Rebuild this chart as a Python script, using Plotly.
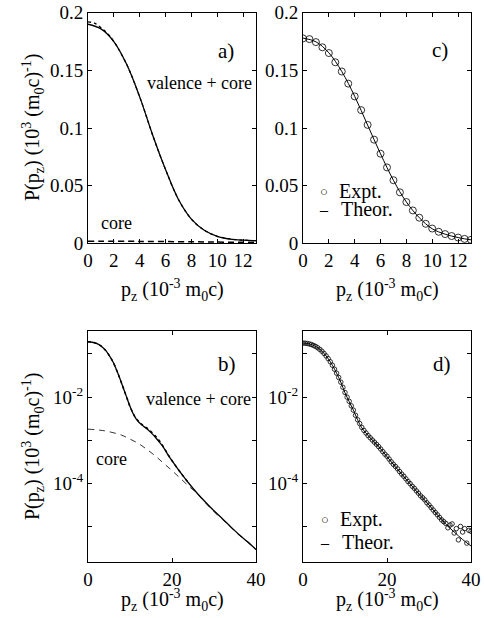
import plotly.graph_objects as go

# valence + core (panels a, b)
x_vc = [0, 1, 2, 3, 4, 5, 6, 7, 8, 9, 10, 11, 12, 13, 14, 15, 16, 17, 18, 19, 20,
        22, 24, 26, 28, 30, 32, 34, 36, 38, 40]
p_vc = [0.190, 0.186, 0.175, 0.155, 0.127, 0.094, 0.064, 0.038, 0.021, 0.0113, 0.0061,
        0.0037, 0.0027, 0.0022, 1.86e-3, 1.51e-3, 1.2e-3, 9.1e-4, 6.8e-4, 4.7e-4, 3.4e-4,
        1.82e-4, 1.02e-4, 6.0e-5, 3.7e-5, 2.35e-5, 1.55e-5, 1.0e-5, 6.6e-6, 4.5e-6, 3.0e-6]

# second (dotted) valence + core curve
x_dot = [0, 0.5, 1, 1.5, 2, 3, 4, 5, 6, 7, 8, 9, 10, 11, 12, 13, 14, 15, 16, 17, 18, 19, 20, 22, 24]
p_dot = [0.192, 0.191, 0.187, 0.182, 0.175, 0.155, 0.127, 0.094, 0.064, 0.038, 0.021, 0.0113,
         0.0061, 0.0038, 0.0028, 0.00225, 1.95e-3, 1.6e-3, 1.28e-3, 9.8e-4, 7.0e-4, 4.8e-4,
         3.4e-4, 1.82e-4, 1.02e-4]

# core contribution
x_core = [0, 4, 8, 10, 12, 14, 16, 18, 20, 22, 24, 26, 28, 30, 32, 34, 36, 38, 40]
p_core = [1.82e-3, 1.66e-3, 1.32e-3, 1.07e-3, 8.5e-4, 6.2e-4, 4.4e-4, 2.95e-4, 2.0e-4,
          1.32e-4, 8.7e-5, 5.9e-5, 3.55e-5, 2.24e-5, 1.48e-5, 9.7e-6, 6.4e-6, 4.4e-6, 2.95e-6]

# experiment (panels c, d)
x_exp = [i * 0.5 for i in range(81)]
p_exp = [0.1777, 0.1771, 0.1745, 0.1700, 0.1650, 0.1570, 0.1490, 0.1385, 0.1274, 0.1155,
         0.1027, 0.0899, 0.0777, 0.0658, 0.0547, 0.0442, 0.0358, 0.0285, 0.0222, 0.0169,
         0.0128, 0.0100, 0.0080, 0.0063, 0.0050, 0.0038, 0.0030, 2.45e-3, 2.0e-3, 1.70e-3,
         1.48e-3, 1.29e-3, 1.15e-3, 1.02e-3, 9.1e-4, 8.1e-4, 7.2e-4, 6.3e-4, 5.5e-4, 4.8e-4,
         4.3e-4, 3.7e-4, 3.2e-4, 2.8e-4, 2.5e-4, 2.2e-4, 1.9e-4, 1.66e-4, 1.48e-4, 1.29e-4,
         1.12e-4, 1.0e-4, 8.7e-5, 7.8e-5, 6.8e-5, 6.0e-5, 5.2e-5, 4.7e-5, 4.2e-5, 3.6e-5,
         3.2e-5, 2.8e-5, 2.45e-5, 2.15e-5, 1.9e-5, 1.66e-5, 1.45e-5, 1.32e-5, 1.2e-5, 9.5e-6,
         1.1e-5, 1.17e-5, 7.2e-6, 9.1e-6, 5.0e-6, 1.02e-5, 7.6e-6, 9.1e-6, 4.2e-6, 8.3e-6, 7.9e-6]

# theory (panels c, d)
x_th = [0, 1, 2, 3, 4, 5, 6, 7, 8, 9, 10, 11, 12, 13, 14, 16, 18, 20, 22, 24, 26, 28, 30,
        32, 34, 36, 38, 40]
p_th = [0.1780, 0.1748, 0.1652, 0.1490, 0.1275, 0.1025, 0.0776, 0.0546, 0.0358, 0.0222,
        0.0126, 0.0079, 0.0050, 0.0030, 1.95e-3, 1.15e-3, 7.2e-4, 4.2e-4, 2.45e-4, 1.45e-4,
        8.7e-5, 5.2e-5, 3.2e-5, 1.9e-5, 1.15e-5, 7.6e-6, 5.1e-6, 3.6e-6]

W, H = 484, 618
FONT = "Liberation Serif"


def px(x):
    return x / W


def py(y):
    return 1 - y / H


fig = go.Figure()

line = dict(color="black", width=1.3, shape="spline")

# a) linear
fig.add_trace(go.Scatter(x=x_vc, y=p_vc, mode="lines", line=line, xaxis="x", yaxis="y"))
fig.add_trace(go.Scatter(x=x_dot, y=p_dot, mode="lines",
                         line=dict(color="black", width=1.3, dash="dot", shape="spline"),
                         xaxis="x", yaxis="y"))
fig.add_trace(go.Scatter(x=x_core, y=p_core, mode="lines",
                         line=dict(color="black", width=1.5, dash="6px,4px", shape="spline"),
                         xaxis="x", yaxis="y"))
# b) log
fig.add_trace(go.Scatter(x=x_vc, y=p_vc, mode="lines", line=line, xaxis="x2", yaxis="y2"))
fig.add_trace(go.Scatter(x=x_dot, y=p_dot, mode="lines",
                         line=dict(color="black", width=1.5, dash="dot", shape="spline"),
                         xaxis="x2", yaxis="y2"))
fig.add_trace(go.Scatter(x=x_core, y=p_core, mode="lines",
                         line=dict(color="black", width=0.8, dash="6px,5px", shape="spline"),
                         xaxis="x2", yaxis="y2"))
# c) linear
fig.add_trace(go.Scatter(x=x_th, y=p_th, mode="lines",
                         line=dict(color="black", width=1, shape="spline"),
                         xaxis="x3", yaxis="y3"))
fig.add_trace(go.Scatter(x=x_exp[:27], y=p_exp[:27], mode="markers",
                         marker=dict(symbol="circle-open", size=7, color="black",
                                     line=dict(width=0.8)),
                         xaxis="x3", yaxis="y3"))
# d) log
fig.add_trace(go.Scatter(x=x_th, y=p_th, mode="lines",
                         line=dict(color="black", width=1, shape="spline"),
                         xaxis="x4", yaxis="y4"))
fig.add_trace(go.Scatter(x=x_exp, y=p_exp, mode="markers",
                         marker=dict(symbol="circle-open", size=4.5, color="black",
                                     line=dict(width=0.8)),
                         xaxis="x4", yaxis="y4"))

tickfont = dict(family=FONT, size=19, color="black")
base = dict(showline=True, linecolor="black", linewidth=1, mirror="ticks", ticks="inside",
            ticklen=4, tickcolor="black", showgrid=False, zeroline=False, tickfont=tickfont,
            automargin=False, ticklabeloverflow="allow")

dom_x_left = [px(88), px(256)]
dom_x_right = [px(303), px(471)]
dom_y_top = [py(243.3), py(12.7)]
dom_y_bot = [py(562.3), py(331)]

lin_x = dict(base, range=[0, 13], tickmode="array", tickvals=[0, 2, 4, 6, 8, 10, 12])
lin_y = dict(base, range=[0, 0.2], tickmode="array", tickvals=[0, 0.05, 0.1, 0.15, 0.2],
             ticktext=["0", "0.05", "0.1", "0.15", "0.2"])
log_x = dict(base, range=[0, 40], tickmode="array", tickvals=[0, 20, 40])
log_y = dict(base, type="log", range=[-5.82, -0.47], tickmode="array",
             tickvals=[1e-5, 1e-4, 1e-3, 1e-2, 1e-1],
             ticktext=["", "10<sup>-4</sup>", "", "10<sup>-2</sup>", ""])

fig.update_layout(
    width=W, height=H, margin=dict(l=0, r=0, t=0, b=0),
    paper_bgcolor="white", plot_bgcolor="white", showlegend=False,
    font=dict(family=FONT, size=19, color="black"),
    xaxis=dict(lin_x, domain=dom_x_left, anchor="y"),
    yaxis=dict(lin_y, domain=dom_y_top, anchor="x"),
    xaxis2=dict(log_x, domain=dom_x_left, anchor="y2"),
    yaxis2=dict(log_y, domain=dom_y_bot, anchor="x2"),
    xaxis3=dict(lin_x, domain=dom_x_right, anchor="y3"),
    yaxis3=dict(lin_y, domain=dom_y_top, anchor="x3"),
    xaxis4=dict(log_x, domain=dom_x_right, anchor="y4"),
    yaxis4=dict(log_y, domain=dom_y_bot, anchor="x4"),
)

xtitle = "p<sub>z</sub> (10<sup>-3</sup> m<sub>0</sub>c)"
ytitle = "P(p<sub>z</sub>) (10<sup>3</sup> (m<sub>0</sub>c)<sup>-1</sup>)"

ann = []


def text(x, y, s, size=19, xref="paper", yref="paper", xa="center", angle=0):
    ann.append(dict(x=x, y=y, text=s, xref=xref, yref=yref, showarrow=False,
                    xanchor=xa, yanchor="middle", textangle=angle,
                    font=dict(family=FONT, size=size, color="black")))


# axis titles
text(px(172), py(290), xtitle, size=20)
text(px(387), py(290), xtitle, size=20)
text(px(172), py(600), xtitle, size=20)
text(px(387), py(600), xtitle, size=20)
text(px(33), py(128), ytitle, size=20, angle=-90)
text(px(33), py(447), ytitle, size=20, angle=-90)

# panel labels and curve labels
text(10.7, 0.167, "a)", size=21, xref="x", yref="y")
text(8.6, 0.139, "valence + core", size=18, xref="x", yref="y")
text(2.2, 0.0177, "core", size=18, xref="x", yref="y")
text(33.1, -1.24, "b)", size=21, xref="x2", yref="y2")
text(26.3, -2.05, "valence + core", size=18, xref="x2", yref="y2")
text(5.5, -3.43, "core", size=18, xref="x2", yref="y2")
text(10.6, 0.168, "c)", size=21, xref="x3", yref="y3")
text(33.1, -1.24, "d)", size=21, xref="x4", yref="y4")

# legends
for yo, yt, dx in [(191.7, 209.3, 0), (519.7, 542.3, 1)]:
    text(px(323.5 + dx), py(yo), "○", size=13)
    text(px(336.5 + dx), py(yo), "Expt.", size=20, xa="left")
    text(px(323.5 + dx), py(yt), "–", size=16)
    text(px(339 + dx), py(yt), "Theor.", size=20, xa="left")

fig.update_layout(annotations=ann)

# page body has an 8px default margin; drop it so the figure sits at the window origin
fig.write_html("out.html", config={"displayModeBar": False},
               post_script="document.body.style.margin = '0';")
